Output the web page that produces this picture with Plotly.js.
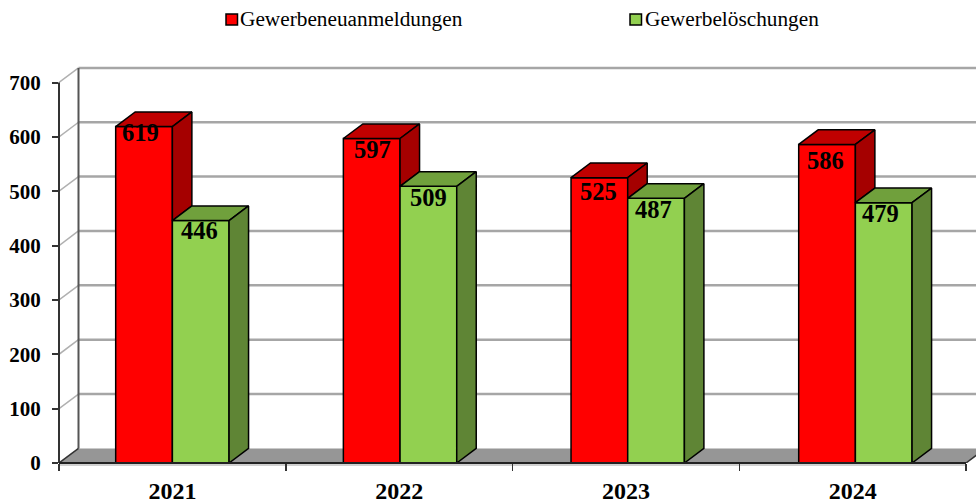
<!DOCTYPE html>
<html>
<head>
<meta charset="utf-8">
<script src="https://cdn.plot.ly/plotly-3.0.1.min.js"></script>
<style>html,body{margin:0;padding:0;background:#fff}#c{width:976px;height:503px}</style>
</head>
<body>
<div id="c"></div>
<script>
var years = ["2021","2022","2023","2024"];
var anmeldungen = [619,597,525,586];
var loeschungen = [446,509,487,479];
var seriesNames = ["Gewerbeneuanmeldungen","Gewerbelöschungen"];
var yTicks = [0,100,200,300,400,500,600,700];
var dropRed = [6,11,14,16];
var dropGreen = [10,11,11,11];
var shiftRed = [-3.5,0.5,-0.5,-2];
var shiftGreen = [-1.5,0,-2.5,-3];

var W=976,H=503,L=59,B=463,T=60;
var catPx=226.75, unitPx=(463-82.5)/700;
var xMin=-0.5, xMax=-0.5+(W-L)/catPx, yMax=(B-T)/unitPx;
var dX=19.5/catPx, dY=14.6/unitPx, barW=0.25, barStep=227.67/catPx;
var FONT="Liberation Serif, Times New Roman, serif";
var px=function(v){return (v-L)/(W-L);}, py=function(v){return (B-v)/(B-T);};
var idx=years.map(function(_,i){return i;});
var barX=idx.map(function(i){return i*barStep;});

function poly(xs,ys,fill){
  return {type:"scatter",mode:"lines",x:xs.concat([xs[0]]),y:ys.concat([ys[0]]),fill:"toself",
    fillcolor:fill,line:{color:"#000",width:1.5},hoverinfo:"skip",showlegend:false};
}
var faces=[];
function addFaces(vals,x0,topCol,sideCol,floorVals){
  idx.forEach(function(i){
    var a=barX[i]+x0,b=a+barW,v=vals[i],f=floorVals?Math.min(floorVals[i],v):0;
    faces.push(poly([a,a+dX,b+dX,b],[v,v+dY,v+dY,v],topCol));
    faces.push(poly([b,b+dX,b+dX,b],[v,v+dY,f+dY,f],sideCol));
  });
}
addFaces(anmeldungen,-barW,"#c00000","#a50000",loeschungen);
addFaces(loeschungen,0,"#70a03c","#5f8535",null);

var bars=[
 {type:"bar",name:seriesNames[0],x:barX,y:anmeldungen,width:barW,offset:-barW,marker:{color:"#ff0000",line:{color:"#000",width:1.5}},showlegend:false},
 {type:"bar",name:seriesNames[1],x:barX,y:loeschungen,width:barW,offset:0,marker:{color:"#92d050",line:{color:"#000",width:1.5}},showlegend:false}
];

var shapes=[];
function seg(x0,y0,x1,y1,col,w,layer,xr,yr){
  shapes.push({type:"line",xref:xr||"x",yref:yr||"y",x0:x0,y0:y0,x1:x1,y1:y1,layer:layer||"below",line:{color:col,width:w}});
}
// floor
shapes.push({type:"path",xref:"x",yref:"y",layer:"below",line:{width:0},fillcolor:"#969696",
  path:"M"+xMin+",0L"+(xMin+dX)+","+dY+"L"+(3.5+dX)+","+dY+"L3.5,0Z"});
// gridlines on wall and side
yTicks.slice(1).forEach(function(t){
  seg(xMin+dX,t+dY,xMax,t+dY,"#a6a6a6",2.5);
  seg(xMin,t,xMin+dX,t+dY,"#b0b0b0",1.5);
});
seg(xMin+dX,dY,xMin+dX,700+dY,"#555555",2);
seg(xMin,0,xMin+dX,dY,"#333333",1.5);
seg(3.5,0,3.5+dX,dY,"#333333",1.5);
// front axis lines
seg(0,0,0,700,"#333333",2,"above","paper","y");
seg(xMin,-0.005,3.5,-0.005,"#c0c0c0",1.5,"below","x","paper");
seg(xMin,0,3.5,0,"#222222",2,"above","x","paper");

// legend swatches
[[226,"#ff0000"],[630,"#92d050"]].forEach(function(s){
  shapes.push({type:"rect",xref:"paper",yref:"paper",x0:px(s[0]),x1:px(s[0]+11.5),y0:py(25),y1:py(14),
    fillcolor:s[1],line:{color:"#000",width:1.5}});
});

var ann=[];
idx.forEach(function(i){
  ann.push({x:barX[i]-barW/2,y:anmeldungen[i],text:String(anmeldungen[i]),showarrow:false,xshift:shiftRed[i],yshift:-dropRed[i],
    yanchor:"middle",font:{family:FONT,size:24.5,color:"#000",weight:"bold"}});
  ann.push({x:barX[i]+barW/2,y:loeschungen[i],text:String(loeschungen[i]),showarrow:false,xshift:shiftGreen[i],yshift:-dropGreen[i],
    yanchor:"middle",font:{family:FONT,size:24.5,color:"#000",weight:"bold"}});
});
[[241,0],[645.5,1]].forEach(function(l){
  ann.push({xref:"paper",yref:"paper",x:px(l[0]),y:py(19),xanchor:"left",yanchor:"middle",showarrow:false,xshift:-3,
    text:seriesNames[l[1]],font:{family:FONT,size:21.3,color:"#000"}});
});

var layout={
  width:W,height:H,margin:{l:L,r:0,t:T,b:H-B,pad:0},paper_bgcolor:"#fff",plot_bgcolor:"#fff",
  showlegend:false,barmode:"overlay",hovermode:false,
  xaxis:{range:[xMin,xMax],tickmode:"array",tickvals:idx,ticktext:years,ticks:"",showgrid:false,zeroline:false,showline:false,
    tickfont:{family:FONT,size:24,color:"#000",weight:"bold"},ticklabelstandoff:11,
    minor:{tick0:-0.5,dtick:1,ticks:"outside",ticklen:7,tickwidth:1.5,tickcolor:"#333",showgrid:false}},
  yaxis:{range:[0,yMax],tickmode:"array",tickvals:yTicks,ticks:"outside",ticklen:6,tickwidth:2,tickcolor:"#333",
    showgrid:false,zeroline:false,showline:false,ticklabelstandoff:7,
    tickfont:{family:FONT,size:21,color:"#000",weight:"bold"}},
  shapes:shapes,annotations:ann
};
Plotly.newPlot("c",bars.concat(faces),layout,{displayModeBar:false,staticPlot:true});
</script>
</body>
</html>
